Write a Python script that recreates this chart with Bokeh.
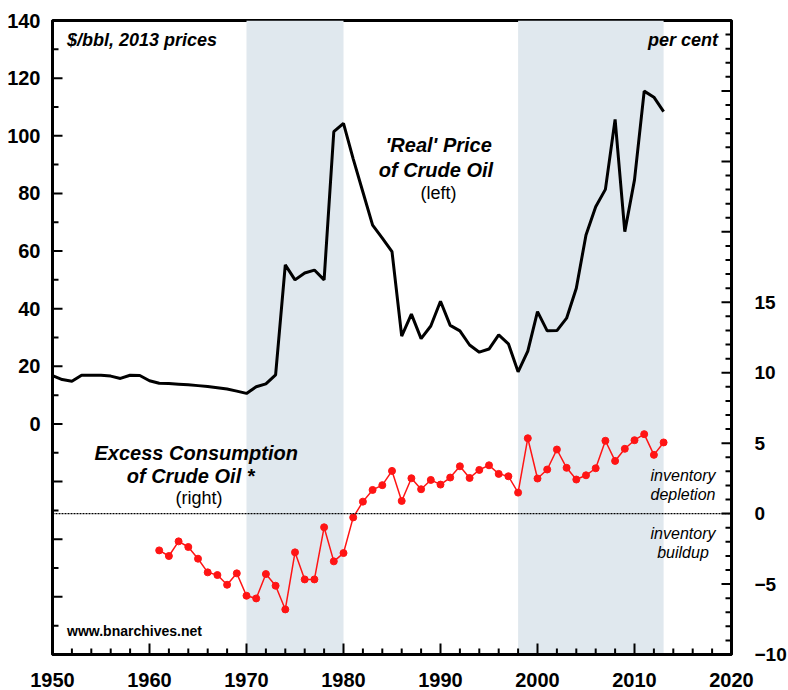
from bokeh.plotting import figure
from bokeh.models import (Range1d, LinearAxis, SingleIntervalTicker, CustomJSTickFormatter,
                          BoxAnnotation, Span, Label)
from bokeh.embed import file_html
from bokeh.resources import INLINE

# ---- data ----
price_years = list(range(1950, 2014))
price = [16.8, 15.4, 14.8, 16.9, 16.9, 16.9, 16.6, 15.8, 16.9, 16.8,
         15.0, 14.1, 14.0, 13.8, 13.6, 13.3, 13.0, 12.6, 12.1, 11.4,
         10.6, 12.9, 13.9, 17.0, 55.2, 50.0, 52.4, 53.4, 50.0, 101.4,
         104.3, 92.0, 80.5, 69.0, 64.5, 59.8, 30.5, 38.1, 29.6, 34.0,
         42.6, 34.2, 32.3, 27.4, 24.9, 26.0, 30.9, 27.8, 18.1, 25.3,
         39.0, 32.3, 32.4, 36.7, 47.1, 65.6, 75.4, 81.4, 105.7, 66.7,
         84.7, 115.5, 113.4, 108.4]

excess_years = list(range(1961, 2014))
excess = [-2.61, -3.01, -1.97, -2.37, -3.20, -4.17, -4.36, -5.05, -4.24,
          -5.83, -6.02, -4.29, -5.12, -6.80, -2.75, -4.67, -4.67, -0.97, -3.39,
          -2.80, -0.27, 0.85, 1.68, 2.02, 3.03, 0.90, 2.51, 1.73, 2.39,
          2.06, 2.56, 3.36, 2.53, 3.10, 3.43, 2.82, 2.65, 1.49, 5.35,
          2.49, 3.13, 4.55, 3.25, 2.42, 2.72, 3.22, 5.17, 3.74, 4.60,
          5.21, 5.64, 4.17, 5.05]

shade_start = [1970, 1998]
shade_end = [1980, 2013]

# ranges and tick positions
X0, X1 = 1950, 2020
L0, L1 = -80, 140
R0, R1 = -10, 35
x_major = list(range(X0, X1 + 1, 10))
x_minor = [v for v in range(X0, X1 + 1, 2) if v % 10 != 0]
left_major = list(range(L0, L1 + 1, 20))
left_minor = list(range(L0 + 10, L1, 20))
right_major = list(range(R0, R1 + 1, 5))
right_minor = [v for v in range(R0, R1 + 1) if v % 5 != 0]

FONT = "Liberation Sans"
RED = "#ff1414"
SHADE = "#e0e8ee"
FW, FH = 679, 634

def dx(px):
    return px * (X1 - X0) / FW

def dyl(px):
    return px * (L1 - L0) / FH

p = figure(frame_width=FW, frame_height=FH, output_backend="svg", toolbar_location=None,
           x_range=Range1d(X0, X1), y_range=Range1d(L0, L1),
           min_border_left=52, min_border_top=20, min_border_right=10, min_border_bottom=10)
p.extra_y_ranges = {"right": Range1d(R0, R1)}
p.grid.visible = False
p.outline_line_color = "black"
p.outline_line_width = 3
p.background_fill_color = "white"

for s, e in zip(shade_start, shade_end):
    p.add_layout(BoxAnnotation(left=s, right=e, fill_color=SHADE, fill_alpha=1.0,
                               line_color=None, level="underlay"))

p.add_layout(Span(location=0, dimension="width", y_range_name="right",
                  line_color="black", line_width=1.3, line_dash="2 1"))

p.line(price_years, price, line_color="black", line_width=3)
p.line(excess_years, excess, y_range_name="right", line_color=RED, line_width=1.5)
p.scatter(excess_years, excess, y_range_name="right", size=7, fill_color=RED, line_color=RED)

# inward tick marks
TK = dict(line_color="black", line_width=2)
p.segment(x0=x_major, y0=[L0] * len(x_major), x1=x_major,
          y1=[L0 + dyl(11)] * len(x_major), **TK)
p.segment(x0=x_minor, y0=[L0] * len(x_minor), x1=x_minor,
          y1=[L0 + dyl(6)] * len(x_minor), **TK)
p.segment(x0=[X0] * len(left_major), y0=left_major,
          x1=[X0 + dx(10)] * len(left_major), y1=left_major, **TK)
p.segment(x0=[X0] * len(left_minor), y0=left_minor,
          x1=[X0 + dx(6)] * len(left_minor), y1=left_minor, **TK)
p.segment(x0=[X1] * len(right_major), y0=right_major,
          x1=[X1 - dx(10)] * len(right_major), y1=right_major, y_range_name="right", **TK)
p.segment(x0=[X1] * len(right_minor), y0=right_minor,
          x1=[X1 - dx(6)] * len(right_minor), y1=right_minor, y_range_name="right", **TK)

def style(ax, standoff, size="20px"):
    ax.axis_line_width = 3
    ax.axis_line_color = "black"
    ax.major_tick_in = 0
    ax.major_tick_out = 0
    ax.minor_tick_in = 0
    ax.minor_tick_out = 0
    ax.major_label_text_font = FONT
    ax.major_label_text_font_size = size
    ax.major_label_text_font_style = "bold"
    ax.major_label_text_color = "black"
    ax.major_label_standoff = standoff

xa = p.xaxis[0]
xa.ticker = SingleIntervalTicker(interval=10, num_minor_ticks=5)
style(xa, 18)

ya = p.yaxis[0]
ya.ticker = SingleIntervalTicker(interval=20, num_minor_ticks=2)
ya.formatter = CustomJSTickFormatter(code="return tick < 0 ? '' : tick.toFixed(0);")
style(ya, 12)

ra = LinearAxis(y_range_name="right")
ra.ticker = SingleIntervalTicker(interval=5, num_minor_ticks=5)
ra.formatter = CustomJSTickFormatter(
    code="if (tick > 15) return ''; return tick < 0 ? '\u2212' + Math.abs(tick).toFixed(0) : tick.toFixed(0);")
style(ra, 23, "19px")
p.add_layout(ra, "right")

def lab(x, y, text, size, style="bold italic", align="left", rng="default"):
    p.add_layout(Label(x=x, y=y, text=text, text_font=FONT, text_font_size=size,
                       text_font_style=style, text_align=align, text_baseline="middle",
                       text_color="black", y_range_name=rng))

lab(1951.5, 133.2, "$/bbl, 2013 prices", "18px")
lab(2018.6, 133.2, "per cent", "18px", align="right")
lab(1990.1, 96.8, "'Real'  Price", "20px", align="center")
lab(1990.1, 88.0, "of  Crude  Oil", "20px", align="center")
lab(1989.8, 80.0, "(left)", "18px", style="normal", align="center")
lab(1965.1, 4.3, "Excess  Consumption", "20px", align="center", rng="right")
lab(1965.1, 2.7, "of  Crude  Oil  *", "20px", align="center", rng="right")
lab(1965.1, 1.1, "(right)", "18px", style="normal", align="center", rng="right")
lab(2015.0, 2.7, "inventory", "16px", style="italic", align="center", rng="right")
lab(2015.0, 1.35, "depletion", "16px", style="italic", align="center", rng="right")
lab(2015.0, -1.4, "inventory", "16px", style="italic", align="center", rng="right")
lab(2015.0, -2.75, "buildup", "16px", style="italic", align="center", rng="right")
lab(1951.5, -8.35, "www.bnarchives.net", "14px", style="bold", rng="right")

open("out.html", "w").write(file_html(p, INLINE))
